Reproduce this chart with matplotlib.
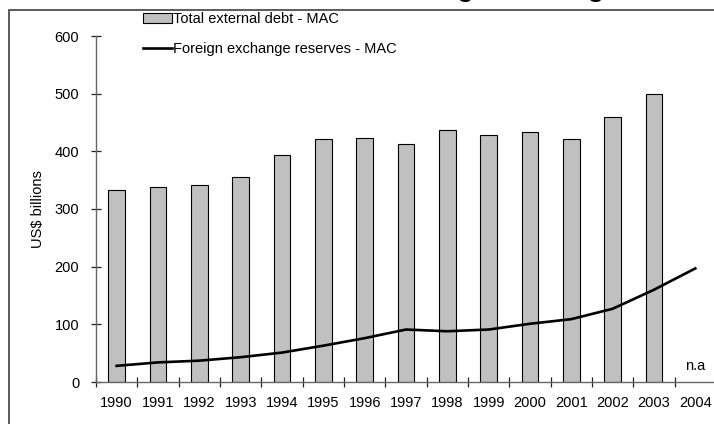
import matplotlib.pyplot as plt
from matplotlib.patches import Rectangle
import numpy as np

plt.rcParams["font.family"] = ["Liberation Sans", "DejaVu Sans"]

YEARS = ["1990", "1991", "1992", "1993", "1994", "1995", "1996", "1997",
         "1998", "1999", "2000", "2001", "2002", "2003", "2004"]
DEBT = [333, 339, 341, 355, 393, 421, 423, 413, 437, 429, 434, 422, 459, 500]  # 2004 n.a
RESERVES = [28, 34, 37, 43, 51, 63, 76, 91, 88, 91, 101, 109, 127, 160, 197]

TITLE = "Total external debt and foreign exchange reserves"
DEBT_LABEL = "Total external debt - MAC"
RES_LABEL = "Foreign exchange reserves - MAC"


def main():
    fig = plt.figure(figsize=(7.14, 4.24), dpi=100)
    ax = fig.add_axes([96 / 714, 1 - 382 / 424, 620 / 714, 346 / 424])

    x = np.arange(len(YEARS))
    bars = ax.bar(x[:len(DEBT)], DEBT, width=0.41, color="#c0c0c0",
                  edgecolor="black", linewidth=0.8, label=DEBT_LABEL, zorder=2)
    line, = ax.plot(x, RESERVES, color="black", linewidth=1.9, label=RES_LABEL,
                    zorder=3)
    ax.text(x[-1], 16, "n.a", ha="center", va="bottom", fontsize=10.5)

    ax.set_xlim(-0.5, len(YEARS) - 0.5)
    ax.set_ylim(0, 600)
    ax.set_yticks(range(0, 601, 100))
    ax.set_xticks(x)
    ax.set_xticklabels(YEARS)
    ax.set_xticks(np.arange(-0.5, len(YEARS), 1.0), minor=True)
    ax.tick_params(axis="x", which="major", length=0, pad=10, labelsize=10.5)
    ax.tick_params(axis="x", which="minor", direction="inout", length=7.2,
                   width=0.9, color="#222222")
    ax.tick_params(axis="y", direction="inout", length=7.2, width=0.9,
                   color="#222222", pad=8.4, labelsize=10.5)

    for side in ["top", "right"]:
        ax.spines[side].set_visible(False)
    for side in ["left", "bottom"]:
        ax.spines[side].set_color("#666666")
        ax.spines[side].set_linewidth(1.0)
    ax.set_ylabel("US$ billions", fontsize=10.5, labelpad=7)

    ax.legend([bars, line], [DEBT_LABEL, RES_LABEL],
              loc="upper left", bbox_to_anchor=(0.076, 1.069), frameon=False,
              borderpad=0, borderaxespad=0, handletextpad=0.05,
              handlelength=2.0, handleheight=0.75, labelspacing=1.1,
              fontsize=10.5)

    # outer frame and the clipped title above it
    fig.patches.append(Rectangle((9 / 714, -0.1), 1.2, 1.1 - 10 / 424,
                                 transform=fig.transFigure, fill=False,
                                 edgecolor="#404040", linewidth=1.2))
    fig.text(0.148, 1.006, TITLE, fontsize=19, fontweight="bold",
             ha="left", va="baseline")

    fig.savefig("out.png", dpi=100)


if __name__ == "__main__":
    main()
